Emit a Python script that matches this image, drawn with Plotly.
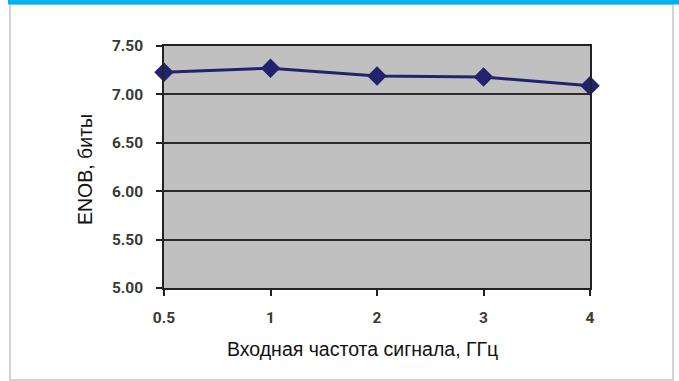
import plotly.graph_objects as go

categories = ["0.5", "1", "2", "3", "4"]
enob = [7.23, 7.27, 7.19, 7.18, 7.09]
y_ticks = [5.0, 5.5, 6.0, 6.5, 7.0, 7.5]
x_title = "Входная частота сигнала, ГГц"
y_title = "ENOB, биты"

W, H = 679, 381
L, R, T, B = 164, 590, 46, 288
pw, ph = R - L, B - T

def px(x):
    return (x - L) / pw

def py(y):
    return (B - y) / ph

tickfont = dict(family="Roboto, sans-serif", size=15.5, color="#3a3a30", weight=700)

fig = go.Figure()
fig.add_trace(go.Scatter(
    x=categories, y=enob, mode="lines+markers",
    line=dict(color="#22226e", width=3),
    marker=dict(symbol="diamond", size=15, color="#22226e"),
    cliponaxis=False, showlegend=False,
))

fig.update_layout(
    width=W, height=H,
    margin=dict(l=L, r=W - R, t=T, b=H - B),
    paper_bgcolor="white",
    plot_bgcolor="#c0c0c0",
    xaxis=dict(type="category", range=[0, len(categories) - 1],
               showgrid=False, showline=True, linecolor="#222", linewidth=1.5, mirror=True,
               ticks="outside", ticklen=6, tickcolor="#222", tickwidth=1.5,
               ticklabelstandoff=9,
               tickfont=tickfont, zeroline=False),
    yaxis=dict(range=[y_ticks[0], y_ticks[-1]], tickvals=y_ticks, tickformat=".2f",
               showgrid=True, gridcolor="#2a2a2a", gridwidth=1.5,
               showline=True, linecolor="#222", linewidth=1.5, mirror=True,
               ticks="outside", ticklen=6, tickcolor="#222", tickwidth=1.5,
               ticklabelstandoff=10,
               tickfont=tickfont, zeroline=False),
    shapes=[
        dict(type="rect", xref="paper", yref="paper",
             x0=px(10), x1=px(673), y0=py(380), y1=py(4),
             line=dict(color="#d4d4d4", width=2), fillcolor="rgba(0,0,0,0)", layer="below"),
        dict(type="rect", xref="paper", yref="paper",
             x0=px(8), x1=px(680), y0=py(4.5), y1=py(-1),
             line=dict(width=0), fillcolor="#00b0f0"),
    ],
    annotations=[
        dict(text=x_title, xref="paper", yref="paper", x=px(362), y=py(349),
             showarrow=False, xanchor="center", yanchor="middle",
             font=dict(family="Liberation Sans, Arial, sans-serif", size=19.5, color="#111")),
        dict(text=y_title, xref="paper", yref="paper", x=px(85), y=py(170),
             showarrow=False, xanchor="center", yanchor="middle", textangle=-90,
             font=dict(family="Liberation Sans, Arial, sans-serif", size=19.5, color="#111")),
    ],
)

fig.write_html("out.html")
